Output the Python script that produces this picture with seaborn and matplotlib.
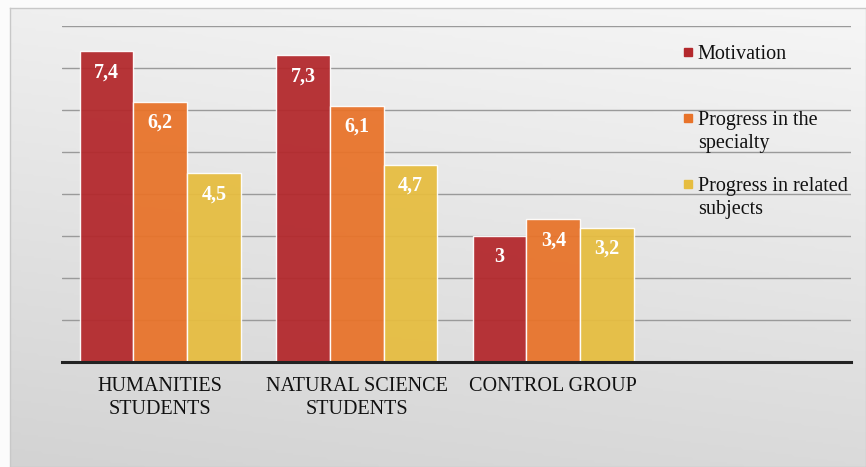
import numpy as np
import pandas as pd
import matplotlib.pyplot as plt
import seaborn as sns
from matplotlib.colors import LinearSegmentedColormap

# --- DATA ---
groups = ["HUMANITIES\nSTUDENTS", "NATURAL SCIENCE\nSTUDENTS", "CONTROL GROUP"]
series = ["Motivation", "Progress in the\nspecialty", "Progress in related\nsubjects"]
motivation = [7.4, 7.3, 3.0]
specialty = [6.2, 6.1, 3.4]
related = [4.5, 4.7, 3.2]
colors = ["#b3282c", "#e8732a", "#e6bd40"]

df = pd.DataFrame({
    "group": groups * 3,
    "series": [s for s in series for _ in groups],
    "value": motivation + specialty + related,
})

sns.set_style("white")
plt.rcParams["font.family"] = ["Liberation Serif", "DejaVu Serif"]

fig = plt.figure(figsize=(8.66, 4.67), dpi=100)
fig.patch.set_facecolor("#fbfbfb")

# --- BACKGROUND PANEL (soft grey gradient) ---
bg = fig.add_axes([10 / 866, 0, 856 / 866, 459 / 467])
Y, X = np.mgrid[0:1:200j, 0:1:400j]
grad = 0.8 * Y + 0.2 * (1 - X)
cmap = LinearSegmentedColormap.from_list("bg", ["#f6f6f6", "#d3d3d3"])
bg.imshow(grad, cmap=cmap, extent=[0, 1, 0, 1], aspect="auto", origin="upper")
bg.set_xticks([])
bg.set_yticks([])
for sp in bg.spines.values():
    sp.set_color("#c8c8c8")
    sp.set_linewidth(1)

# --- BAR CHART ---
ax = fig.add_axes([62 / 866, 105 / 467, 789 / 866, 336 / 467])
ax.patch.set_alpha(0)

sns.barplot(data=df, x="group", y="value", hue="series", palette=colors,
            saturation=1, width=0.82, alpha=0.94, edgecolor="white", linewidth=1,
            errorbar=None, legend=False, ax=ax, zorder=2)

ax.set_ylim(0, 8)
ax.set_xlim(-0.5, 3.515)
ax.set_yticks(range(1, 9))
ax.set_yticklabels([])
ax.yaxis.grid(True, color="#9a9a9a", linewidth=1)
ax.set_axisbelow(True)
ax.tick_params(axis="y", length=0)
ax.tick_params(axis="x", length=0, pad=11, labelsize=14.5)
for t in ax.get_xticklabels():
    t.set_linespacing(1.26)
    t.set_color("#111111")
ax.set_xlabel("")
ax.set_ylabel("")

for side in ["left", "right", "top"]:
    ax.spines[side].set_visible(False)
ax.spines["bottom"].set_color("#222222")
ax.spines["bottom"].set_linewidth(2.2)
ax.spines["bottom"].set_zorder(3)

# value labels with decimal comma
for container, vals in zip(ax.containers, [motivation, specialty, related]):
    ax.bar_label(container, labels=[f"{v:g}".replace(".", ",") for v in vals],
                 padding=-22.5, color="white", fontweight="bold", fontsize=14.5)

# --- LEGEND (Excel-like, equal spacing, swatch on first line) ---
for i, (lab, col) in enumerate(zip(series, colors)):
    y_mark = 0.9226 - i * 0.1964
    ax.plot([0.7934], [y_mark], marker="s", ms=6, color=col, linestyle="none",
            transform=ax.transAxes, clip_on=False)
    ax.text(0.806, 0.943 - i * 0.1964, lab, transform=ax.transAxes,
            fontsize=14.5, va="top", ha="left", linespacing=1.26, color="#111111")

fig.savefig("out.png", dpi=100)
